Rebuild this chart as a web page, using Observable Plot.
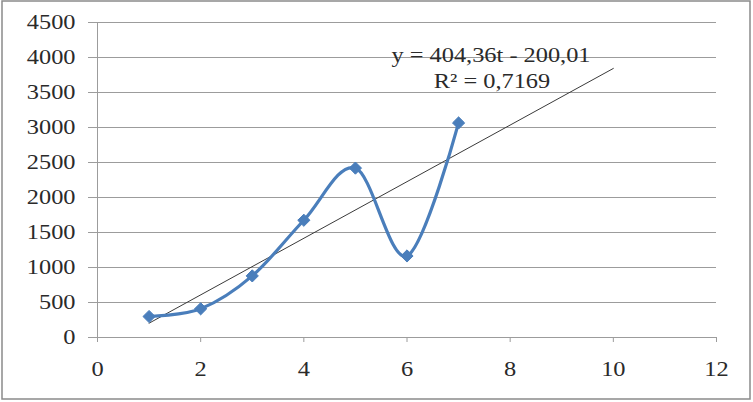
<!DOCTYPE html>
<html>
<head>
<meta charset="utf-8">
<script src="https://cdn.jsdelivr.net/npm/d3@7"></script>
<script src="https://cdn.jsdelivr.net/npm/@observablehq/plot@0.6"></script>
<style>
  html, body { margin: 0; padding: 0; background: #fff; }
  #chart { position: relative; width: 753px; height: 402px; }
  #chart svg { display: block; }
</style>
</head>
<body>
<div id="chart"></div>
<script>
// Data
const tValues = [1, 2, 3, 4, 5, 6, 7];
const yValues = [300, 410, 880, 1675, 2420, 1165, 3065];
const xTicks = [0, 2, 4, 6, 8, 10, 12];
const yTicks = [0, 500, 1000, 1500, 2000, 2500, 3000, 3500, 4000, 4500];
const trendSlope = 404.36;
const trendIntercept = -200.01;
const trendRange = [1, 10];
const equationLine = "y = 404,36t - 200,01";
const r2Line = "R\u00B2 = 0,7169";

const series = tValues.map((t, i) => ({t, y: yValues[i]}));
const trend = trendRange.map(t => ({t, y: trendSlope * t + trendIntercept}));

const grey = "#9c9c9c";
const textColor = "#2a2a2a";
const serif = "Liberation Serif";
const fs = 21;

const plot = Plot.plot({
  width: 753,
  height: 402,
  marginLeft: 97,
  marginRight: 37,
  marginTop: 22,
  marginBottom: 65,
  style: {fontFamily: serif, fontSize: fs + "px", color: textColor, background: "#fff"},
  x: {domain: [0, 12], ticks: xTicks},
  y: {domain: [0, 4500], ticks: yTicks},
  marks: [
    Plot.gridY(yTicks, {stroke: grey, strokeOpacity: 1, strokeWidth: 1}),
    Plot.axisY(yTicks, {tickSize: 9, tickPadding: 13, stroke: grey, fill: textColor, label: null, fontSize: fs, fontFamily: serif, tickFormat: d => String(d)}),
    Plot.axisX(xTicks, {tickSize: 5, tickPadding: 19, stroke: grey, fill: textColor, label: null, fontSize: fs, fontFamily: serif, tickFormat: d => String(d)}),
    Plot.ruleX([0], {stroke: grey, strokeWidth: 1}),
    Plot.ruleY([0], {stroke: grey, strokeWidth: 1}),
    Plot.line(trend, {x: "t", y: "y", stroke: "#3a3a3a", strokeWidth: 1}),
    Plot.line(series, {x: "t", y: "y", stroke: "#4a7ebb", strokeWidth: 3.2, curve: "cardinal"}),
    Plot.dot(series, {x: "t", y: "y", symbol: "diamond2", r: 5.5, fill: "#4a7ebb", stroke: "#4a7ebb", strokeWidth: 1}),
    Plot.text([equationLine], {frameAnchor: "top", dx: 84, dy: 33, text: d => d, textAnchor: "middle", lineAnchor: "middle", fill: textColor, fontSize: fs, fontFamily: serif}),
    Plot.text([r2Line], {frameAnchor: "top", dx: 85, dy: 59, text: d => d, textAnchor: "middle", lineAnchor: "middle", fill: textColor, fontSize: fs, fontFamily: serif})
  ]
});

// outer chart border
d3.select(plot).append("rect")
  .attr("x", 2).attr("y", 1).attr("width", 748).attr("height", 398)
  .attr("fill", "none").attr("stroke", "#8a8a8a").attr("stroke-width", 1.5);

document.getElementById("chart").appendChild(plot);

// the reference's text is horizontally stretched; mimic with textLength
d3.select(plot).selectAll("text").each(function() {
  const w = this.getComputedTextLength();
  if (w > 0) {
    this.setAttribute("textLength", (w * 1.16).toFixed(1));
    this.setAttribute("lengthAdjust", "spacingAndGlyphs");
  }
});
</script>
</body>
</html>
